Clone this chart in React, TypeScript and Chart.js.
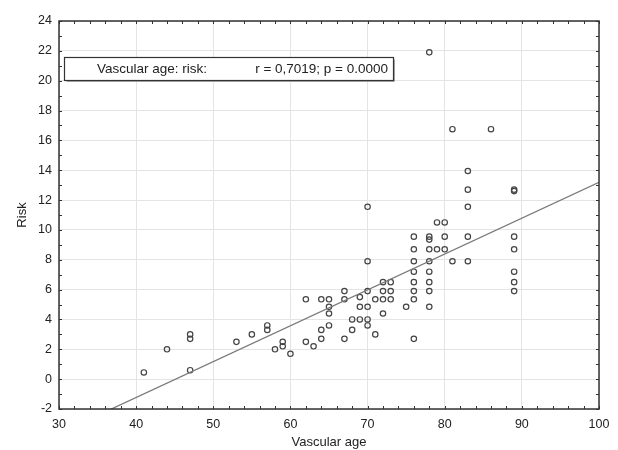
import React, { useEffect, useRef } from 'react';
import { Chart, registerables } from 'chart.js';

Chart.register(...registerables);

// ---- data ----
const vascularAge = [
  41, 44, 47, 47, 47, 53, 55, 57, 57, 58, 59, 59, 60,
  62, 62, 63, 64, 64, 64, 65, 65, 65, 65,
  67, 67, 67, 68, 68, 69, 69, 69,
  70, 70, 70, 70, 70, 70, 71, 71,
  72, 72, 72, 72, 73, 73, 73, 75,
  76, 76, 76, 76, 76, 76, 76, 76,
  78, 78, 78, 78, 78, 78, 78, 78, 78,
  79, 79, 80, 80, 80, 81, 81,
  83, 83, 83, 83, 83, 86,
  89, 89, 89, 89, 89, 89, 89,
];
const risk = [
  0.45, 2.0, 3.0, 2.7, 0.6, 2.5, 3.0, 3.6, 3.3, 2.0, 2.5, 2.2, 1.7,
  5.35, 2.5, 2.2, 5.35, 3.3, 2.7, 5.35, 4.85, 4.4, 3.6,
  5.9, 5.35, 2.7, 4.0, 3.3, 5.5, 4.85, 4.0,
  11.55, 7.9, 5.9, 4.85, 4.0, 3.6, 5.35, 3.0,
  6.5, 5.9, 5.35, 4.4, 6.5, 5.9, 5.35, 4.85,
  9.55, 8.7, 7.9, 7.2, 6.5, 5.9, 5.35, 2.7,
  21.9, 9.55, 9.35, 8.7, 7.9, 7.2, 6.5, 5.9, 4.85,
  10.5, 8.7, 10.5, 9.55, 8.7, 16.75, 7.9,
  13.95, 12.7, 11.55, 9.55, 7.9, 16.75,
  12.7, 12.6, 9.55, 8.7, 7.2, 6.5, 5.9,
];
const regressionIntercept = -10.84;
const regressionSlope = 0.2403;

const xMin = 30, xMax = 100, xStep = 10, xMinorStep = 2;
const yMin = -2, yMax = 24, yStep = 2, yMinorStep = 1;

const xTitle = 'Vascular age';
const yTitle = 'Risk';
const legendLabel = 'Vascular age: risk:';
const legendStats = 'r = 0,7019; p = 0.0000';

const FONT = "'Liberation Sans', Arial, sans-serif";
const TEXT = '#222';

const framePlugin = {
  id: 'frame',
  afterDatasetsDraw(chart: any) {
    const { ctx, chartArea: a, scales } = chart;
    const xs = scales.x, ys = scales.y;
    ctx.save();
    ctx.strokeStyle = '#333';
    ctx.lineWidth = 1;
    const tl = 3;
    ctx.beginPath();
    for (let v = xMin; v <= xMax + 1e-9; v += xMinorStep) {
      const px = Math.round(xs.getPixelForValue(v)) + 0.5;
      ctx.moveTo(px, a.bottom); ctx.lineTo(px, a.bottom - tl);
      ctx.moveTo(px, a.top); ctx.lineTo(px, a.top + tl);
    }
    for (let v = yMin; v <= yMax + 1e-9; v += yMinorStep) {
      const py = Math.round(ys.getPixelForValue(v)) + 0.5;
      ctx.moveTo(a.left, py); ctx.lineTo(a.left + tl, py);
      ctx.moveTo(a.right, py); ctx.lineTo(a.right - tl, py);
    }
    ctx.stroke();
    ctx.lineWidth = 1.5;
    ctx.strokeStyle = '#333';
    ctx.strokeRect(a.left, a.top, a.right - a.left, a.bottom - a.top);

    // legend box
    const bx = 64.5, by = 57.5, bw = 329, bh = 23;
    ctx.fillStyle = '#fff';
    ctx.fillRect(bx, by, bw, bh);
    ctx.strokeStyle = '#aaa';
    ctx.lineWidth = 1;
    ctx.beginPath();
    ctx.moveTo(bx + 2, by + bh + 1); ctx.lineTo(bx + bw + 1, by + bh + 1); ctx.lineTo(bx + bw + 1, by + 2);
    ctx.stroke();
    ctx.strokeStyle = '#333';
    ctx.lineWidth = 1.2;
    ctx.strokeRect(bx, by, bw, bh);
    ctx.fillStyle = TEXT;
    ctx.font = `13.5px ${FONT}`;
    ctx.textBaseline = 'middle';
    ctx.textAlign = 'left';
    ctx.fillText(legendLabel, 97, by + bh / 2 + 0.5);
    ctx.textAlign = 'right';
    ctx.fillText(legendStats, 388, by + bh / 2 + 0.5);
    ctx.restore();
  },
};

export default function App() {
  const ref = useRef<HTMLCanvasElement>(null);
  useEffect(() => {
    document.body.style.margin = '0';
    const points = vascularAge.map((x, i) => ({ x, y: risk[i] }));
    const line = [xMin, xMax].map((x) => ({ x, y: regressionIntercept + regressionSlope * x }));
    const chart = new Chart(ref.current as HTMLCanvasElement, {
      type: 'scatter',
      data: {
        datasets: [
          {
            type: 'line',
            data: line,
            borderColor: '#7a7a7a',
            borderWidth: 1.3,
            pointRadius: 0,
            fill: false,
          } as any,
          {
            data: points,
            pointRadius: 2.7,
            pointBorderWidth: 1.2,
            borderColor: '#444',
            backgroundColor: 'rgba(255,255,255,0)',
            pointHoverRadius: 2.7,
          },
        ],
      },
      options: {
        animation: false,
        responsive: false,
        layout: { padding: { top: 21, right: 19, left: 0, bottom: 0 } },
        plugins: { legend: { display: false }, tooltip: { enabled: false } },
        scales: {
          x: {
            type: 'linear',
            min: xMin,
            max: xMax,
            ticks: { stepSize: xStep, color: TEXT, font: { family: FONT, size: 12.5 }, padding: 8, maxRotation: 0 },
            grid: { color: '#e4e4e4', drawTicks: false },
            border: { display: false },
            title: { display: true, text: xTitle, color: TEXT, font: { family: FONT, size: 13 }, padding: { top: 0, bottom: 0 } },
            afterFit: (s: any) => { s.height = 41; },
          },
          y: {
            type: 'linear',
            min: yMin,
            max: yMax,
            ticks: { stepSize: yStep, color: TEXT, font: { family: FONT, size: 12.5 }, padding: 7 },
            grid: { color: '#e4e4e4', drawTicks: false },
            border: { display: false },
            title: { display: true, text: yTitle, color: TEXT, font: { family: FONT, size: 13 }, padding: { top: 14.5, bottom: 0 } },
            afterFit: (s: any) => { s.width = 59; },
          },
        },
      },
      plugins: [framePlugin],
    } as any);
    return () => chart.destroy();
  }, []);
  return (
    <div style={{ width: 618, height: 450, background: '#fff' }}>
      <canvas ref={ref} width={618} height={450} style={{ display: 'block' }} />
    </div>
  );
}
